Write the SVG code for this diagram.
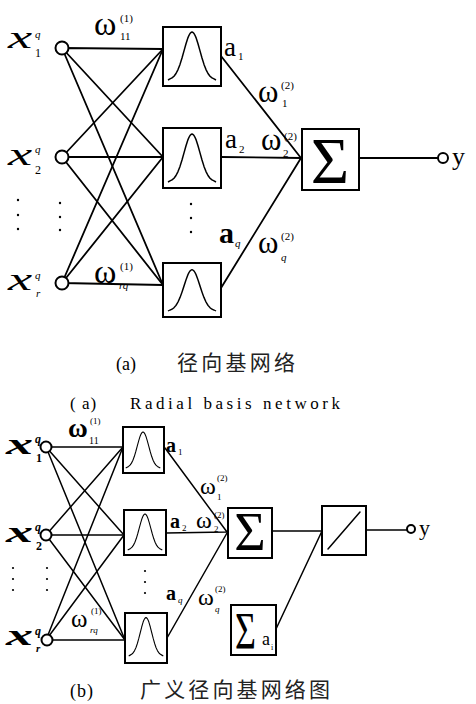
<svg xmlns="http://www.w3.org/2000/svg" width="476" height="704" viewBox="0 0 476 704">
<style>
.ln{stroke:#000;stroke-width:1.8;fill:none;stroke-linecap:round}
.lnb{stroke:#000;stroke-width:1.5;fill:none;stroke-linecap:round}
.box{fill:#fff;stroke:#000;stroke-width:2}
.cir{fill:#fff;stroke:#000;stroke-width:2}
.g{fill:none;stroke:#000;stroke-width:1.5;stroke-linejoin:round}
.s{font-family:"Liberation Serif",serif;fill:#000}
.xi{font-family:"Liberation Serif",serif;font-style:italic;fill:#000}
.cjk{font-family:"Liberation Serif","Noto Sans CJK SC",sans-serif;fill:#222}
.dot{fill:#000}
</style>
<defs>
<path id="gauss" d="M-24,0 L-22,-1.1 L-20,-2.1 L-18,-3.8 L-16,-6.5 L-14,-10.4 L-12,-15.6 L-10,-22 L-8,-29.1 L-6,-36.2 L-4,-42.4 L-3,-44.7 L-2,-46.5 L-1,-47.6 L0,-48 L1,-47.6 L2,-46.5 L3,-44.7 L4,-42.4 L6,-36.2 L8,-29.1 L10,-22 L12,-15.6 L14,-10.4 L16,-6.5 L18,-3.8 L20,-2.1 L22,-1.1 L24,0"/>
</defs>
<rect width="476" height="704" fill="#fff"/>

<!-- ===== Diagram (a) connectors ===== -->
<g id="connectors-a">
<path class="ln" d="M62,48 L163,49 M62,48 L163,157 M62,48 L163,285"/>
<path class="ln" d="M62,157 L163,49 M62,157 L163,157 M62,157 L163,285"/>
<path class="ln" d="M62,283 L163,49 M62,283 L163,157 M62,283 L163,285"/>
<path class="ln" d="M221,56 L301,158 M221,157 L301,158 M221,288 L301,158"/>
<path class="ln" d="M359,158 L438,158"/>
</g>

<g id="a-x1"><circle class="cir" cx="62" cy="48" r="6.5"/>
<text class="xi" font-size="32" transform="translate(8,48) scale(1.7,1)">x</text><text class="xi" x="35" y="38" font-size="11">q</text><text class="s" x="35" y="57" font-size="12">1</text></g>
<g id="a-x2"><circle class="cir" cx="62" cy="157" r="6.5"/>
<text class="xi" font-size="32" transform="translate(8,165) scale(1.7,1)">x</text><text class="xi" x="35" y="153" font-size="11">q</text><text class="s" x="35" y="174" font-size="12">2</text></g>
<g id="a-xr"><circle class="cir" cx="62" cy="283" r="6.5"/>
<text class="xi" font-size="32" transform="translate(8,290) scale(1.7,1)">x</text><text class="xi" x="35" y="279" font-size="11">q</text><text class="xi" x="36" y="297" font-size="11">r</text></g>
<g id="a-dots">
<circle class="dot" cx="18" cy="200" r="1.2"/><circle class="dot" cx="18" cy="215" r="1.2"/><circle class="dot" cx="18" cy="229" r="1.2"/>
<circle class="dot" cx="60" cy="203" r="1.2"/><circle class="dot" cx="60" cy="217" r="1.2"/><circle class="dot" cx="60" cy="230" r="1.2"/>
<circle class="dot" cx="191" cy="204" r="1.2"/><circle class="dot" cx="191" cy="218" r="1.2"/><circle class="dot" cx="191" cy="232" r="1.2"/>
</g>
<g id="a-h1"><rect class="box" x="163" y="27" width="58" height="59"/><use href="#gauss" class="g" transform="translate(192,80)"/></g>
<g id="a-h2"><rect class="box" x="163" y="128" width="58" height="60"/><use href="#gauss" class="g" transform="translate(192,182)"/></g>
<g id="a-hq"><rect class="box" x="163" y="263" width="58" height="54"/><use href="#gauss" class="g" transform="translate(192,311) scale(1,0.86)"/></g>
<g id="a-sum"><rect class="box" x="302" y="129" width="57" height="61"/><text class="s" x="330" y="183" font-size="66" text-anchor="middle">Σ</text></g>
<g id="a-y"><circle class="cir" cx="443" cy="158" r="5"/><text class="s" x="452" y="165" font-size="26">y</text></g>
<g id="a-labels">
<text class="s" x="94" y="35" font-size="34">ω</text><text class="s" x="120" y="22" font-size="11">(1)</text><text class="s" x="120" y="40" font-size="11">11</text>
<text class="s" x="94" y="283" font-size="34">ω</text><text class="s" x="120" y="270" font-size="11">(1)</text><text class="xi" x="119" y="289" font-size="11">rq</text>
<text class="s" x="224" y="56" font-size="27">a</text><text class="s" x="238" y="60" font-size="11">1</text>
<text class="s" x="225" y="148" font-size="27">a</text><text class="s" x="239" y="153" font-size="11">2</text>
<text class="s" x="219" y="243" font-size="30" font-weight="bold">a</text><text class="xi" x="235" y="247" font-size="11">q</text>
<text class="s" x="258" y="102" font-size="31">ω</text><text class="s" x="281" y="89" font-size="11">(2)</text><text class="s" x="282" y="107" font-size="11">1</text>
<text class="s" x="261" y="150" font-size="31">ω</text><text class="s" x="284" y="140" font-size="11">(2)</text><text class="s" x="283" y="157" font-size="11">2</text>
<text class="s" x="258" y="253" font-size="31">ω</text><text class="s" x="281" y="240" font-size="11">(2)</text><text class="xi" x="281" y="261" font-size="11">q</text>
</g>
<g id="cap-a">
<text class="s" x="116" y="370" font-size="18">(a)</text>
<text class="cjk" x="177" y="370" font-size="21" textLength="118" lengthAdjust="spacing">径向基网络</text>
<text class="s" x="70" y="409" font-size="17" letter-spacing="1">( a)</text>
<text class="s" x="130" y="409" font-size="17" textLength="210" lengthAdjust="spacing">Radial basis network</text>
</g>

<!-- ===== Diagram (b) connectors ===== -->
<g id="connectors-b">
<path class="lnb" d="M46,447 L123,447 M46,447 L124,535 M46,447 L125,640"/>
<path class="lnb" d="M46,535 L123,447 M46,535 L124,535 M46,535 L125,640"/>
<path class="lnb" d="M46,640 L123,447 M46,640 L124,535 M46,640 L125,640"/>
<path class="lnb" d="M165,448 L227,532 M166,533 L227,532"/>
<path class="lnb" stroke-width="1" d="M167,638 L227,533"/>
<path class="lnb" d="M272,531 L322,531 M276,629 L322,531 M366,530 L407,530"/>
</g>
<g id="b-x1"><circle class="cir" cx="46" cy="447" r="5.5"/>
<text class="xi" font-size="30" font-weight="bold" transform="translate(6,454) scale(1.8,1)">x</text><text class="xi" x="35" y="443" font-size="12" font-weight="bold">q</text><text class="s" x="36" y="462" font-size="12" font-weight="bold">1</text></g>
<g id="b-x2"><circle class="cir" cx="46" cy="535" r="5.5"/>
<text class="xi" font-size="30" font-weight="bold" transform="translate(6,542) scale(1.8,1)">x</text><text class="xi" x="35" y="531" font-size="12" font-weight="bold">q</text><text class="s" x="36" y="550" font-size="12" font-weight="bold">2</text></g>
<g id="b-xr"><circle class="cir" cx="47" cy="640" r="5.5"/>
<text class="xi" font-size="30" font-weight="bold" transform="translate(6,645) scale(1.8,1)">x</text><text class="xi" x="35" y="635" font-size="12" font-weight="bold">q</text><text class="xi" x="36" y="652" font-size="11" font-weight="bold">r</text></g>
<g id="b-dots">
<circle class="dot" cx="13" cy="568" r="1.1"/><circle class="dot" cx="13" cy="579" r="1.1"/><circle class="dot" cx="13" cy="590" r="1.1"/>
<circle class="dot" cx="47" cy="568" r="1.1"/><circle class="dot" cx="47" cy="579" r="1.1"/><circle class="dot" cx="47" cy="590" r="1.1"/>
<circle class="dot" cx="145" cy="571" r="1.1"/><circle class="dot" cx="145" cy="582" r="1.1"/><circle class="dot" cx="145" cy="593" r="1.1"/>
</g>
<g id="b-h1"><rect class="box" x="123" y="427" width="41" height="46"/><use href="#gauss" class="g" stroke-width="1.2" transform="translate(143,468) scale(0.72,0.75)"/></g>
<g id="b-h2"><rect class="box" x="124" y="510" width="42" height="45"/><use href="#gauss" class="g" stroke-width="1.2" transform="translate(145,550) scale(0.72,0.75)"/></g>
<g id="b-hq"><rect class="box" x="125" y="613" width="42" height="50"/><use href="#gauss" class="g" stroke-width="1.2" transform="translate(146,656) scale(0.72,0.8)"/></g>
<g id="b-sum"><rect class="box" x="228" y="508" width="44" height="50"/><text class="s" x="250" y="550" font-size="54" text-anchor="middle">Σ</text></g>
<g id="b-lin"><rect class="box" x="322" y="506" width="44" height="49"/><path class="lnb" d="M328,549 L360,512"/></g>
<g id="b-suma"><rect class="box" x="231" y="605" width="45" height="50"/><text class="s" font-size="40" transform="translate(235,649) scale(0.9,1.3)">Σ</text><text class="s" x="262" y="645" font-size="18">a</text><text class="s" x="271" y="650" font-size="8">i</text></g>
<g id="b-y"><circle class="cir" cx="411" cy="529" r="4"/><text class="s" x="419" y="535" font-size="22">y</text></g>
<g id="b-labels">
<text class="s" x="68" y="437" font-size="27" font-weight="bold">ω</text><text class="s" x="90" y="424" font-size="9">(1)</text><text class="s" x="89" y="444" font-size="10">11</text>
<text class="s" x="71" y="627" font-size="25">ω</text><text class="s" x="91" y="614" font-size="9">(1)</text><text class="xi" x="90" y="633" font-size="9">rq</text>
<text class="s" x="166" y="452" font-size="20" font-weight="bold">a</text><text class="s" x="178" y="455" font-size="9">1</text>
<text class="s" x="170" y="528" font-size="20" font-weight="bold">a</text><text class="s" x="182" y="531" font-size="9">2</text>
<text class="s" x="166" y="600" font-size="20" font-weight="bold">a</text><text class="xi" x="178" y="603" font-size="9">q</text>
<text class="s" x="200" y="494" font-size="24">ω</text><text class="s" x="217" y="481" font-size="9">(2)</text><text class="s" x="217" y="500" font-size="9">1</text>
<text class="s" x="196" y="528" font-size="24">ω</text><text class="s" x="214" y="518" font-size="9">(2)</text><text class="s" x="214" y="532" font-size="9">2</text>
<text class="s" x="198" y="605" font-size="24">ω</text><text class="s" x="215" y="592" font-size="9">(2)</text><text class="xi" x="215" y="612" font-size="9">q</text>
</g>
<g id="cap-b">
<text class="s" x="70" y="697" font-size="18" letter-spacing="1">(b)</text>
<text class="cjk" x="140" y="697" font-size="21" textLength="190" lengthAdjust="spacing">广义径向基网络图</text>
</g>
</svg>
